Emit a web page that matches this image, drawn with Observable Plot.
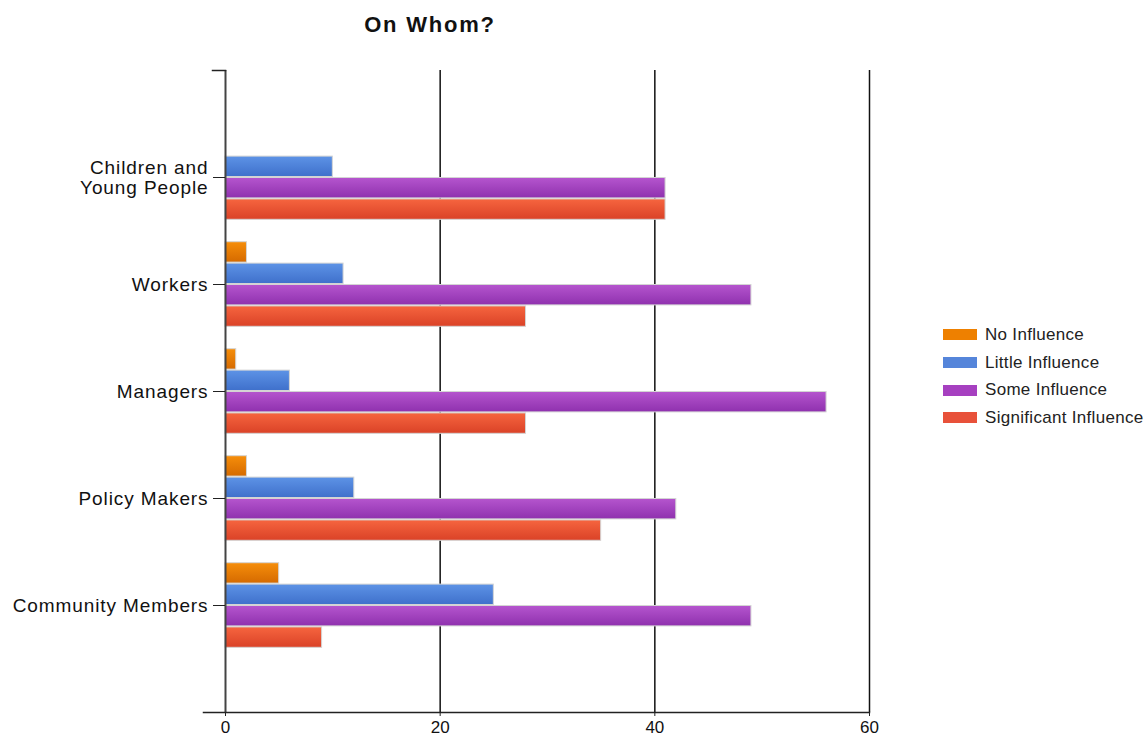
<!DOCTYPE html>
<html>
<head>
<meta charset="utf-8">
<script src="https://cdn.jsdelivr.net/npm/d3@7"></script>
<script src="https://cdn.jsdelivr.net/npm/@observablehq/plot@0.6"></script>
<style>
  body { margin: 0; background: #fff; font-family: "Liberation Sans", Arial, sans-serif; }
  #wrap { position: relative; width: 1145px; height: 737px; overflow: hidden; background: #fff; }
  #title { height: 50px; width: 860px; text-align: center; font-weight: bold; font-size: 22px; line-height: 50px; color: #111; letter-spacing: 1.8px; }
  #legend { position: absolute; left: 943px; top: 321px; }
  .row { display: flex; align-items: center; height: 27.7px; }
  .sw { width: 34px; height: 11px; margin-right: 8px; }
  .lab { font-size: 17px; letter-spacing: 0.3px; color: #222; white-space: nowrap; }
  svg g[aria-label="y-axis tick label"] text { letter-spacing: 0.9px; }
</style>
</head>
<body>
<div id="wrap">
  <div id="title">On Whom?</div>
  <div id="chart"></div>
  <div id="legend"></div>
</div>
<script>
// ---- data ----
const categories = ["Children and\nYoung People", "Workers", "Managers", "Policy Makers", "Community Members"];
const series = ["No Influence", "Little Influence", "Some Influence", "Significant Influence"];
const noInfluence          = [0, 2, 1, 2, 5];
const littleInfluence      = [10, 11, 6, 12, 25];
const someInfluence        = [41, 49, 56, 42, 49];
const significantInfluence = [41, 28, 28, 35, 9];
const xTicks = [0, 20, 40, 60];

// ---- styles ----
const topColors    = ["#F68E0A", "#5D93E6", "#B555CE", "#F6653F"];
const bottomColors = ["#D56A00", "#3F70CB", "#8F31AE", "#DA4227"];
const legendColors = ["#EE8000", "#5585DA", "#A640C0", "#E8513A"];

const valuesBySeries = [noInfluence, littleInfluence, someInfluence, significantInfluence];
const rows = series.flatMap((s, si) => categories.map((c, ci) => ({category: c, series: s, si, value: valuesBySeries[si][ci]})));

const W = 1145, H = 692, mT = 20, mB = 30, mL = 225, mR = 276;
const padIn = 0.2, padOut = 0.6;
const step = (H - mT - mB) / (categories.length - padIn + 2 * padOut);
const bw = step * (1 - padIn);
const sub = bw / series.length;
const gap = 0.7;

const defs = () => {
  const d = d3.create("svg:defs");
  series.forEach((_, i) => {
    const g = d.append("linearGradient").attr("id", "grad" + i)
      .attr("x1", 0).attr("y1", 0).attr("x2", 0).attr("y2", 1);
    g.append("stop").attr("offset", "0%").attr("stop-color", topColors[i]);
    g.append("stop").attr("offset", "100%").attr("stop-color", bottomColors[i]);
  });
  return d.node();
};

const barMarks = series.map((s, i) => Plot.barX(rows.filter(d => d.series === s && d.value > 0), {
  y: "category",
  x: "value",
  fill: `url(#grad${i})`,
  stroke: "#d4d4d4",
  strokeWidth: 1,
  insetTop: i * sub + gap,
  insetBottom: (series.length - 1 - i) * sub + gap
}));

const chart = Plot.plot({
  width: W,
  height: H,
  marginTop: mT,
  marginBottom: mB,
  marginLeft: mL,
  marginRight: mR,
  style: {fontSize: "19px", fontFamily: "'Liberation Sans', Arial, sans-serif", color: "#111", background: "transparent"},
  x: {domain: [0, 60], label: null},
  y: {domain: categories, paddingInner: padIn, paddingOuter: padOut, label: null},
  marks: [
    defs,
    Plot.ruleX(xTicks.slice(1), {stroke: "#111", strokeWidth: 1.5}),
    ...barMarks,
    Plot.ruleX([0], {stroke: "#444", strokeWidth: 2}),
    Plot.frame({anchor: "bottom", insetLeft: -22, stroke: "#222", strokeWidth: 1.5}),
    Plot.frame({anchor: "top", insetLeft: -13, insetRight: W - mL - mR, stroke: "#222", strokeWidth: 1.5}),
    Plot.axisY({tickSize: 12, tickPadding: 5, lineHeight: 1.05, stroke: "#222"}),
    Plot.axisX({ticks: xTicks, tickSize: 4, tickPadding: 4, fontSize: 17, stroke: "#222"})
  ]
});
document.getElementById("chart").appendChild(chart);

const legend = document.getElementById("legend");
series.forEach((s, i) => {
  const r = document.createElement("div");
  r.className = "row";
  r.innerHTML = `<div class="sw" style="background:${legendColors[i]}"></div><div class="lab">${s}</div>`;
  legend.appendChild(r);
});
</script>
</body>
</html>
